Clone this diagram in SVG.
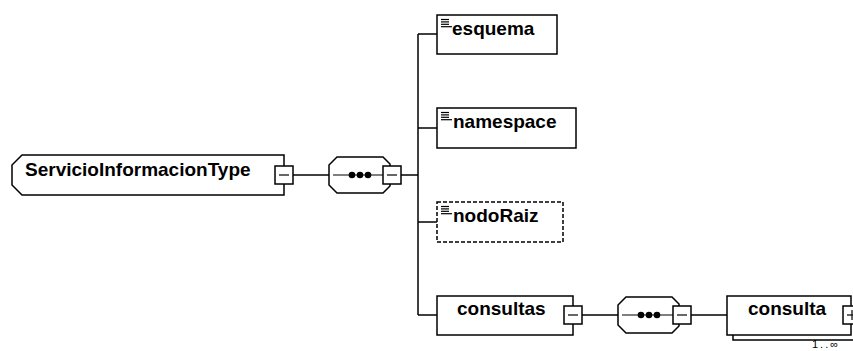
<svg xmlns="http://www.w3.org/2000/svg" width="853" height="351" viewBox="0 0 853 351">
<style>
.box{fill:#fff;stroke:#000;stroke-width:1.5}
.dash{fill:#fff;stroke:#000;stroke-width:1.5;stroke-dasharray:4,2}
.ln{fill:none;stroke:#000;stroke-width:1.5}
.thin{fill:none;stroke:#000;stroke-width:1.2}
.lbl{font-family:"Liberation Sans",Arial,sans-serif;font-weight:bold;font-size:19px;fill:#000}
.occ{font-family:"Liberation Sans",Arial,sans-serif;font-size:11px;fill:#000;letter-spacing:2px}
</style>
<defs>
<g id="minus">
<rect class="box" x="-9" y="-9" width="18" height="18"/>
<line class="thin" x1="-5" y1="0" x2="5" y2="0"/>
</g>
<g id="icon">
<line class="thin" x1="0" y1="0" x2="8" y2="0"/>
<line class="thin" x1="0" y1="2.4" x2="8" y2="2.4"/>
<line class="thin" x1="0" y1="4.8" x2="8" y2="4.8"/>
<line class="thin" x1="0" y1="7.2" x2="11" y2="7.2"/>
</g>
</defs>
<g id="connectors">
<line class="ln" x1="293" y1="175" x2="329" y2="175"/>
<line class="ln" x1="401" y1="175" x2="418" y2="175"/>
<line class="ln" x1="418" y1="34" x2="418" y2="315"/>
<line class="ln" x1="418" y1="34" x2="437" y2="34"/>
<line class="ln" x1="418" y1="128" x2="437" y2="128"/>
<line class="ln" x1="418" y1="222" x2="437" y2="222"/>
<line class="ln" x1="418" y1="315" x2="437" y2="315"/>
<line class="ln" x1="582" y1="315" x2="618" y2="315"/>
<line class="ln" x1="691" y1="315" x2="727" y2="315"/>
</g>
<g id="ServicioInformacionType">
<polygon class="box" points="22,155 284,155 284,195 22,195 12,185 12,165"/>
<text class="lbl" x="25" y="176">ServicioInformacionType</text>
<use href="#minus" x="284" y="175"/>
</g>
<g id="sequence1">
<polygon class="box" points="337,157 383,157 390,164 390,186 383,193 337,193 329,185 329,165"/>
<line class="thin" x1="333" y1="175" x2="383" y2="175"/>
<circle cx="352" cy="175" r="3.3"/>
<circle cx="360" cy="175" r="3.3"/>
<circle cx="368" cy="175" r="3.3"/>
<use href="#minus" x="392" y="175"/>
</g>
<g id="esquema">
<rect class="box" x="437" y="15" width="120" height="39"/>
<use href="#icon" x="441" y="19.5"/>
<text class="lbl" x="452" y="35">esquema</text>
</g>
<g id="namespace">
<rect class="box" x="437" y="108" width="139" height="40"/>
<use href="#icon" x="441" y="112.5"/>
<text class="lbl" x="453" y="128">namespace</text>
</g>
<g id="nodoRaiz">
<rect class="dash" x="437" y="202" width="126" height="40"/>
<use href="#icon" x="441" y="206.5"/>
<text class="lbl" x="453" y="222">nodoRaiz</text>
</g>
<g id="consultas">
<rect class="box" x="437" y="296" width="136" height="39"/>
<text class="lbl" x="457" y="315">consultas</text>
<use href="#minus" x="573" y="315"/>
</g>
<g id="sequence2">
<polygon class="box" points="626,297 672,297 679,304 679,326 672,333 626,333 618,325 618,305"/>
<line class="thin" x1="622" y1="315" x2="673" y2="315"/>
<circle cx="641" cy="315" r="3.3"/>
<circle cx="649" cy="315" r="3.3"/>
<circle cx="657" cy="315" r="3.3"/>
<use href="#minus" x="682" y="315"/>
</g>
<g id="consulta">
<polyline class="ln" points="733,335 733,340 860,340"/>
<rect class="box" x="727" y="296" width="124" height="39"/>
<text class="lbl" x="748" y="315">consulta</text>
<rect class="box" x="843" y="306" width="18" height="18"/>
<line class="thin" x1="847" y1="315" x2="857" y2="315"/>
<line class="thin" x1="852" y1="310" x2="852" y2="320"/>
<text class="occ" x="812" y="348">1..∞</text>
</g>
</svg>
